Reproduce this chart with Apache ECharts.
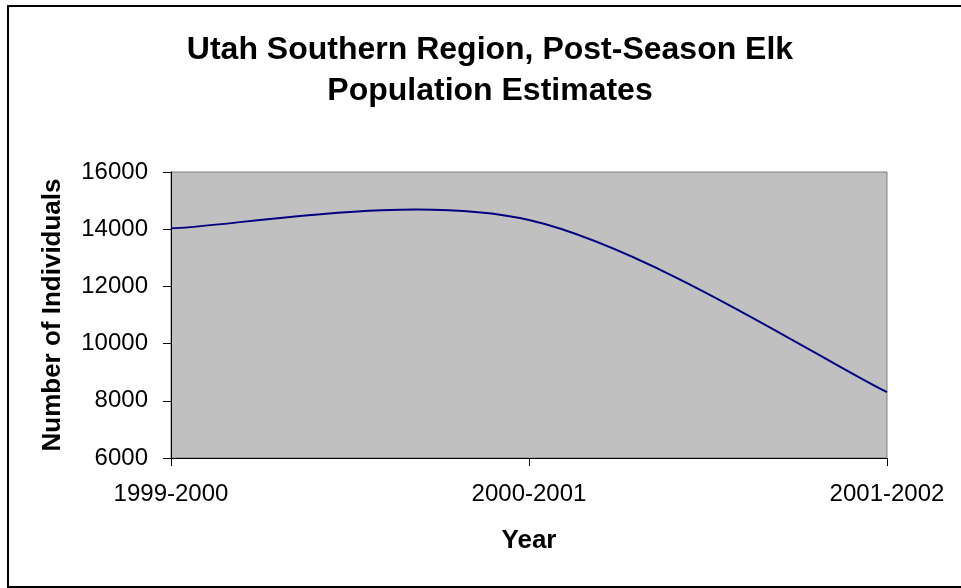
<!DOCTYPE html>
<html>
<head>
<meta charset="utf-8">
<script src="https://cdn.jsdelivr.net/npm/echarts@6/dist/echarts.min.js"></script>
<style>
html,body{margin:0;padding:0;background:#fff;}
#chart{width:961px;height:588px;}
</style>
</head>
<body>
<div id="chart"></div>
<script>
var categories = ['1999-2000', '2000-2001', '2001-2002'];
var populationValues = [14030, 14320, 8300];
var yTicks = { min: 6000, max: 16000, interval: 2000 };
var titleText = 'Utah Southern Region, Post-Season Elk\nPopulation Estimates';
var yAxisTitle = 'Number of Individuals';
var xAxisTitle = 'Year';

var FONT = '"Liberation Sans", Arial, sans-serif';

// Excel-style smoothed line through the data points (Catmull-Rom / Bezier),
// positioned through the chart's own coordinate system.
function renderSmoothLine(params, api) {
  if (params.dataIndex !== 0) return null;
  var pts = populationValues.map(function (v, i) { return api.coord([i, v]); });
  var n = pts.length;
  var children = [];
  for (var i = 0; i < n - 1; i++) {
    var p0 = pts[Math.max(i - 1, 0)], p1 = pts[i], p2 = pts[i + 1], p3 = pts[Math.min(i + 2, n - 1)];
    children.push({
      type: 'bezierCurve',
      shape: {
        x1: p1[0], y1: p1[1], x2: p2[0], y2: p2[1],
        cpx1: p1[0] + (p2[0] - p0[0]) / 6, cpy1: p1[1] + (p2[1] - p0[1]) / 6,
        cpx2: p2[0] - (p3[0] - p1[0]) / 6, cpy2: p2[1] - (p3[1] - p1[1]) / 6
      },
      style: { stroke: '#000080', lineWidth: 2, fill: null }
    });
  }
  return { type: 'group', children: children };
}

var chart = echarts.init(document.getElementById('chart'), null, { renderer: 'canvas' });
chart.setOption({
  animation: false,
  backgroundColor: '#ffffff',
  title: {
    text: titleText,
    left: 485,
    top: 25,
    textAlign: 'center',
    textStyle: { fontFamily: FONT, fontSize: 32, fontWeight: 'bold', color: '#000', lineHeight: 41 }
  },
  graphic: [{
    type: 'rect',
    shape: { x: 8, y: 6, width: 1000, height: 581 },
    style: { fill: 'none', stroke: '#000', lineWidth: 2 },
    silent: true,
    z: -1
  }],
  grid: {
    left: 171, right: 74, top: 172, bottom: 130,
    show: true, backgroundColor: '#c0c0c0', borderColor: '#808080', borderWidth: 1
  },
  xAxis: {
    type: 'category',
    data: categories,
    boundaryGap: false,
    name: xAxisTitle,
    nameLocation: 'middle',
    nameGap: 70,
    nameTextStyle: { fontFamily: FONT, fontSize: 26, fontWeight: 'bold', color: '#000' },
    axisLine: { show: true, lineStyle: { color: '#000', width: 1 } },
    axisTick: { show: true, length: 8, interval: 0, lineStyle: { color: '#000' } },
    axisLabel: { fontFamily: FONT, fontSize: 24, color: '#000', margin: 24, interval: 0 },
    splitLine: { show: false }
  },
  yAxis: {
    type: 'value',
    min: yTicks.min, max: yTicks.max, interval: yTicks.interval,
    name: yAxisTitle,
    nameLocation: 'middle',
    nameRotate: 90,
    nameGap: 105,
    nameTextStyle: { fontFamily: FONT, fontSize: 26, fontWeight: 'bold', color: '#000' },
    axisLine: { show: true, lineStyle: { color: '#000', width: 1 } },
    axisTick: { show: true, length: 8, lineStyle: { color: '#000' } },
    axisLabel: { fontFamily: FONT, fontSize: 24, color: '#000', margin: 23,
      formatter: function (v) { return String(v); } },
    splitLine: { show: false }
  },
  series: [{
    type: 'custom',
    data: populationValues.map(function (v, i) { return [i, v]; }),
    encode: { x: 0, y: 1 },
    renderItem: renderSmoothLine,
    silent: true
  }]
});
</script>
</body>
</html>
